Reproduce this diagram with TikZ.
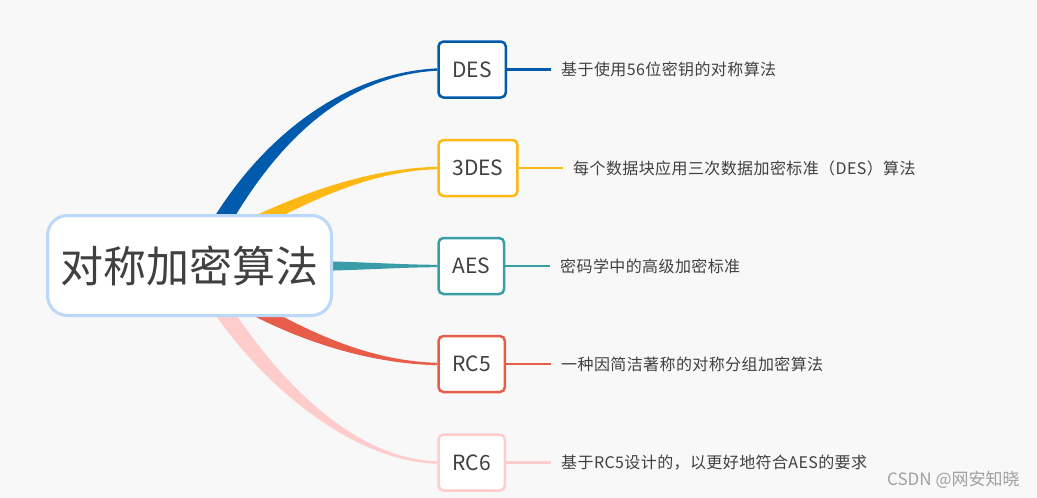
\documentclass[tikz,border=0pt]{standalone}
\usepackage{fontspec}
\setmainfont{Noto Sans CJK SC}
\newfontfamily\leaffont[LetterSpace=2.5]{Noto Sans CJK SC}
\usetikzlibrary{calc}
\pgfdeclarelayer{bg}
\pgfdeclarelayer{branches}
\pgfsetlayers{bg,branches,main}
\definecolor{cbg}{HTML}{F8F8F8}
\definecolor{cdes}{HTML}{005BAC}
\definecolor{cthree}{HTML}{FDB813}
\definecolor{caes}{HTML}{3A9CA6}
\definecolor{crcfive}{HTML}{E85C4A}
\definecolor{crcsix}{HTML}{FFCCCC}
\definecolor{ccentral}{HTML}{BCD8F8}
\definecolor{ctext}{HTML}{404040}
\definecolor{cwm}{HTML}{A0A0A0}
% tapered branch: #1 start, #2 c1, #3 c2, #4 end, #5 half width start, #6 half width end, #7 colour
\newcommand\taperbranch[7]{%
  \fill[#7] ($(#1)!#5!90:(#2)$) .. controls ($(#2)!#5!-90:(#1)$) and ($(#3)!#6!90:(#4)$) .. ($(#4)!#6!-90:(#3)$)
    -- ($(#4)!#6!90:(#3)$) .. controls ($(#3)!#6!-90:(#4)$) and ($(#2)!#5!90:(#1)$) .. ($(#1)!#5!-90:(#2)$) -- cycle;}
\begin{document}
\begin{tikzpicture}[x=1pt,y=-1pt,
  central/.style={draw=ccentral, line width=3pt, fill=white, rounded corners=20pt,
    minimum width=284pt, minimum height=100pt, inner sep=0pt, text=ctext,
    font=\fontsize{43}{50}\selectfont},
  algbox/.style={fill=white, line width=2.5pt, rounded corners=5pt, minimum height=56pt,
    inner xsep=14pt, inner ysep=0pt, anchor=west, text=ctext, font=\fontsize{21}{25}\selectfont},
  leaf/.style={anchor=west, inner xsep=10pt, inner ysep=0pt, text=ctext,
    font=\leaffont\fontsize{16}{20}\selectfont},
  leafline/.style={line width=2.5pt}]
\begin{pgfonlayer}{bg}
  \fill[cbg] (0,0) rectangle (1037,498);
\end{pgfonlayer}
\useasboundingbox (0,0) rectangle (1037,498);

\node[central] (root) at (189.5,265.5) {对称加密算法};

\node[algbox, draw=cdes] (des) at (437.25,69.5) {DES};
\node[algbox, draw=cthree] (tdes) at (437.25,168) {3DES};
\node[algbox, draw=caes] (aes) at (437.25,266) {AES};
\node[algbox, draw=crcfive] (rcfive) at (437.25,364) {RC5};
\node[algbox, draw=crcsix] (rcsix) at (437.25,462.5) {RC6};

\node[leaf] (desleaf) at (551,69.5) {基于使用56位密钥的对称算法};
\node[leaf] (tdesleaf) at (563,168) {每个数据块应用三次数据加密标准（DES）算法};
\node[leaf] (aesleaf) at (550,266) {密码学中的高级加密标准};
\node[leaf] (rcfiveleaf) at (551,364) {一种因简洁著称的对称分组加密算法};
\node[leaf] (rcsixleaf) at (551,462.5) {基于RC5设计的，以更好地符合AES的要求};

\draw[leafline, cdes] (des.east) -- (desleaf.west);
\draw[leafline, cthree] (tdes.east) -- (tdesleaf.west);
\draw[leafline, caes] (aes.east) -- (aesleaf.west);
\draw[leafline, crcfive] (rcfive.east) -- (rcfiveleaf.west);
\draw[leafline, crcsix] (rcsix.east) -- (rcsixleaf.west);

\coordinate (sdes) at (206,250);
\coordinate (sthree) at (230,235);
\coordinate (saes) at (300,266);
\coordinate (srcfive) at (230,295);
\coordinate (srcsix) at (205,282);

\begin{pgfonlayer}{branches}
  \taperbranch{sdes}{252,160}{330,75}{des.west}{9pt}{1.2pt}{cdes}
  \taperbranch{sthree}{290,205}{360,170}{tdes.west}{6.5pt}{1.2pt}{cthree}
  \taperbranch{saes}{350,266}{400,266}{aes.west}{5pt}{1.2pt}{caes}
  \taperbranch{srcfive}{290,330}{360,362}{rcfive.west}{7pt}{1.2pt}{crcfive}
  \taperbranch{srcsix}{255,368}{345,460}{rcsix.west}{9pt}{1.2pt}{crcsix}
\end{pgfonlayer}

\node[anchor=west, inner sep=0pt, text=cwm, font=\fontsize{17}{20}\selectfont] (wm) at (887,480) {CSDN @网安知晓};
\end{tikzpicture}
\end{document}
